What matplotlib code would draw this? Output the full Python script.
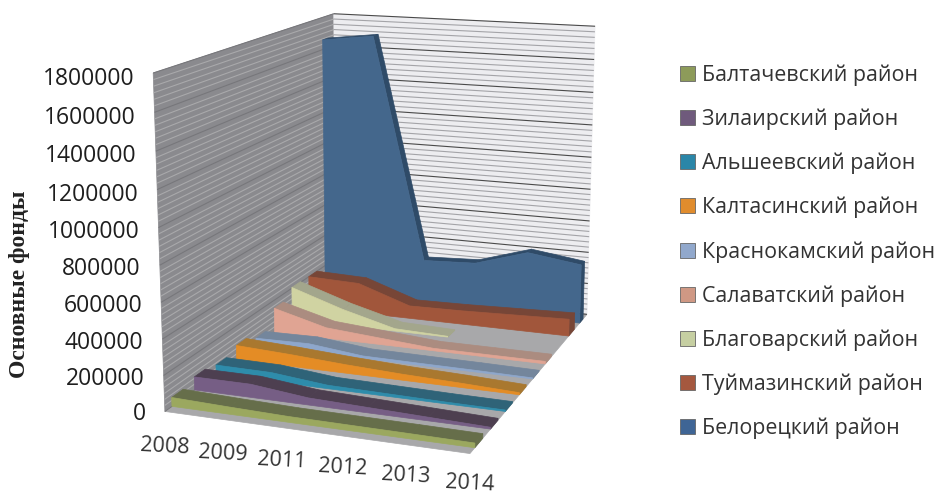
import numpy as np
import matplotlib
matplotlib.use('Agg')
import matplotlib.pyplot as plt
from matplotlib.patches import Patch, Polygon

years = ['2008', '2009', '2011', '2012', '2013', '2014']
axis_max = 1800000

baltachevsky = [50000, 40000, 32000, 30000, 28000, 25000]
zilairsky = [75000, 75000, 40000, 30000, 20000, 10000]
alsheevsky = [55000, 52000, 20000, 15000, 10000, 8000]
kaltasinsky = [85000, 70000, 50000, 35000, 25000, 12000]
krasnokamsky = [45000, 50000, 15000, 12000, 10000, 6000]
salavatsky = [150000, 65000, 40000, 15000, 15000, 15000]
blagovarsky = [205000, 100000, 15000, 5000, np.nan, np.nan]
tuymazinsky = [200000, 190000, 80000, 85000, 95000, 105000]
beloretsky = [1660000, 1700000, 300000, 315000, 415000, 370000]

names = ['Балтачевский район', 'Зилаирский район', 'Альшеевский район',
         'Калтасинский район', 'Краснокамский район', 'Салаватский район',
         'Благоварский район', 'Туймазинский район', 'Белорецкий район']
series = [baltachevsky, zilairsky, alsheevsky, kaltasinsky, krasnokamsky,
          salavatsky, blagovarsky, tuymazinsky, beloretsky]
face_colors = ['#9BA85F', '#765E85', '#2E8CAB', '#E48C25', '#8EA7CC',
               '#E0A493', '#D0D3A2', '#A1563B', '#44678C']
top_colors = ['#666E4A', '#4D3F50', '#2F6378', '#A9782F', '#74869C',
              '#AB8C80', '#A3A68C', '#774637', '#2F4B68']
legend_colors = ['#8D9B5A', '#6F5A7C', '#2A86A8', '#E08C2D', '#91A8CC',
                 '#CF9884', '#C6CFA2', '#A5583F', '#3F6595']


def fit_camera():
    # box corners (position, depth, height) and where they sit in the image
    box = [(0, 0, 0), (1, 0, 0), (1, 1, 0), (0, 1, 0), (0, 0, 1), (0, 1, 1), (1, 1, 1)]
    img = [(165, 412), (470, 453), (587, 315), (336, 287), (153, 73), (334, 14), (595, 26)]
    rows, rhs = [], []
    for (u, d, h), (px, py) in zip(box, img):
        rows.append([u, d, h, 1, 0, 0, 0, 0, -px * u, -px * d, -px * h])
        rows.append([0, 0, 0, 0, u, d, h, 1, -py * u, -py * d, -py * h])
        rhs += [px, py]
    p = np.linalg.lstsq(np.array(rows, float), np.array(rhs, float), rcond=None)[0]
    return np.append(p, 1).reshape(3, 4)


camera = fit_camera()


def project(u, d, h):
    v = camera @ np.array([u, d, h, 1.0])
    return v[0] / v[2], v[1] / v[2]


def poly(ax, pts, color, z=1, edge=None):
    xy = [project(*p) for p in pts]
    ax.add_patch(Polygon(xy, closed=True, facecolor=color, edgecolor=edge or color, lw=0.5, zorder=z))


def wall_line(ax, p0, p1, color, lw, z=0.5):
    x0, y0 = project(*p0)
    x1, y1 = project(*p1)
    ax.plot([x0, x1], [y0, y1], color=color, lw=lw, zorder=z, solid_capstyle='butt')


fig = plt.figure(figsize=(9.38, 4.91), dpi=100)
ax = fig.add_axes([0, 0, 1, 1])
ax.set_xlim(0, 938)
ax.set_ylim(491, 0)
ax.axis('off')

# walls and floor
poly(ax, [(0, 0, 0), (0, 1, 0), (0, 1, 1), (0, 0, 1)], '#8A8A8E', z=0.1)
poly(ax, [(0, 1, 0), (1, 1, 0), (1, 1, 1), (0, 1, 1)], '#EDEDF0', z=0.1)
poly(ax, [(0, 0, 0), (1, 0, 0), (1, 1, 0), (0, 1, 0)], '#A8A8AA', z=0.2)

for i in range(0, 6 * 9 + 1):
    h = i / 54
    major = i % 6 == 0
    wall_line(ax, (0, 0, h), (0, 1, h), '#77777B' if major else '#A9A9AB', 0.8)
    wall_line(ax, (0, 1, h), (1, 1, h), '#4A4A4A' if major else '#A4A4A8', 0.8)

# ribbons, back to front
n = len(years)
u_pos = np.linspace(0, 1, n)
slot = 1 / len(series)
z = 2
for i in range(len(series) - 1, -1, -1):
    vals = np.array(series[i], float) / axis_max
    keep = ~np.isnan(vals)
    us, hs = u_pos[keep], vals[keep]
    # the tall back ribbon reads thinner in the original
    thick = 0.32 if i == len(series) - 1 else 0.5
    d0, d1 = (i + 0.3) * slot, (i + 0.3 + thick) * slot
    poly(ax, [(us[-1], d0, 0), (us[-1], d1, 0), (us[-1], d1, hs[-1]), (us[-1], d0, hs[-1])], top_colors[i], z=z)
    front = [(u, d0, 0) for u in (us[0], us[-1])] + [(u, d0, h) for u, h in zip(us[::-1], hs[::-1])]
    for j in range(len(us) - 1):
        poly(ax, [(us[j], d0, hs[j]), (us[j + 1], d0, hs[j + 1]),
                  (us[j + 1], d1, hs[j + 1]), (us[j], d1, hs[j])], top_colors[i], z=z + 0.1)
    poly(ax, front, face_colors[i], z=z + 0.2)
    z += 1

tick_font = ['Open Sans', 'DejaVu Sans']
for val in range(0, axis_max + 1, 200000):
    h = val / axis_max
    x, y = project(0, 0, h)
    ax.text(x - 19, y + 3 + 3 * h, str(val), ha='right', va='center', fontsize=16.5,
            color='#1E1E1E', family=tick_font)

for u, label in zip(u_pos, years):
    x, y = project(u, 0, 0)
    ax.text(x, y + 35 - 5 * u, label, ha='center', va='center', fontsize=15.5, color='#333333',
            rotation=-3, rotation_mode='anchor', family=tick_font)

ax.text(20, 284, 'Основные фонды', rotation=90, ha='center', va='center', fontsize=17,
        fontweight='bold', family=['Liberation Serif', 'DejaVu Serif'], color='#222222')

handles = [Patch(facecolor=c, edgecolor='#666666', lw=0.6) for c in legend_colors]
fig.legend(handles, names, loc='upper left', bbox_to_anchor=(0.725, 0.869), frameon=False,
           prop={'family': tick_font, 'size': 15.4}, labelspacing=1.06, handlelength=0.7,
           handleheight=0.7, handletextpad=0.33, borderpad=0, borderaxespad=0, labelcolor='#333333')

fig.savefig('out.png', dpi=100)
